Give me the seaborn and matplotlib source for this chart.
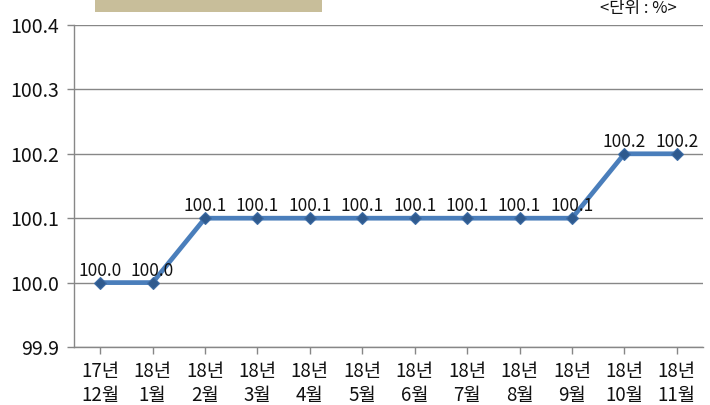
import matplotlib
matplotlib.use("Agg")
import matplotlib.pyplot as plt
import matplotlib.patches as mpatches
import seaborn as sns
import pandas as pd

years = ["17년", "18년", "18년", "18년", "18년", "18년", "18년", "18년", "18년", "18년", "18년", "18년"]
months = ["12월", "1월", "2월", "3월", "4월", "5월", "6월", "7월", "8월", "9월", "10월", "11월"]
values = [100.0, 100.0, 100.1, 100.1, 100.1, 100.1, 100.1, 100.1, 100.1, 100.1, 100.2, 100.2]
y_ticks = [99.9, 100.0, 100.1, 100.2, 100.3, 100.4]

labels = [f"{y}\n{m}" for y, m in zip(years, months)]
df = pd.DataFrame({"period": labels, "value": values})

sns.set_theme(style="white")
plt.rcParams["font.family"] = ["Noto Sans CJK KR", "DejaVu Sans"]

fig = plt.figure(figsize=(7.1, 4.05), dpi=100)
ax = fig.add_axes([74 / 710, 1 - 347 / 405, (703 - 74) / 710, (347 - 25) / 405])

grid_c = "#878787"
sns.lineplot(data=df, x="period", y="value", ax=ax, color="#4A7EBB", linewidth=3.4,
             marker="D", markersize=6.5, markerfacecolor="#2F5A8E",
             markeredgecolor="#3E6DA6", markeredgewidth=0.8, sort=False, zorder=3)

ax.set_xlim(-0.5, len(labels) - 0.5)
ax.set_ylim(99.9, 100.4)
ax.set_yticks(y_ticks)
ax.set_yticklabels([f"{v:.1f}" for v in y_ticks])
ax.set_xlabel("")
ax.set_ylabel("")

for i, v in enumerate(values):
    ax.annotate(f"{v:.1f}", (i, v), xytext=(0, 2), textcoords="offset points",
                ha="center", va="bottom", fontsize=12.5, color="#111111")

ax.yaxis.grid(True, color=grid_c, linewidth=1.0)
ax.set_axisbelow(True)
for s in ["top", "right"]:
    ax.spines[s].set_visible(False)
for s in ["left", "bottom"]:
    ax.spines[s].set_color(grid_c)
    ax.spines[s].set_linewidth(1.0)

ax.tick_params(axis="y", which="both", left=True, length=5, width=1, color=grid_c,
               labelsize=14, labelcolor="#111111", pad=6)
ax.tick_params(axis="x", which="both", bottom=True, length=5, width=1, color=grid_c,
               labelsize=13.5, labelcolor="#111111", pad=5)
for t in ax.get_xticklabels():
    t.set_linespacing(1.22)

fig.patches.append(mpatches.Rectangle((95 / 710, 1 - 12 / 405), (322 - 95) / 710, 20 / 405,
                                      transform=fig.transFigure, facecolor="#C8BE9A",
                                      edgecolor="none"))
fig.text(638 / 710, 1 - 0.5 / 405, "<단위 : %>", ha="center", va="top", fontsize=12,
         color="#111111")

fig.savefig("out.png", dpi=100)
